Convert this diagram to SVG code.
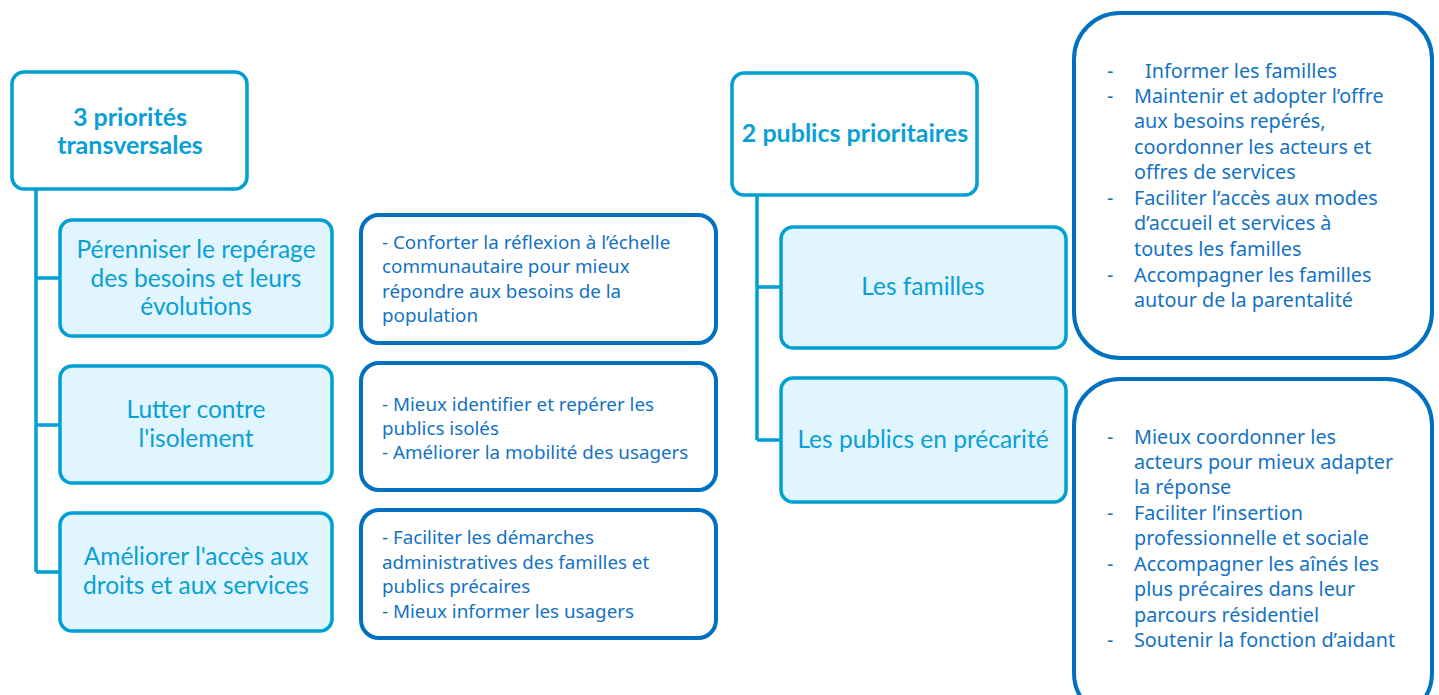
<svg xmlns="http://www.w3.org/2000/svg" width="1439" height="695" viewBox="0 0 1439 695">
<style>
.head{fill:#fff;stroke:#00A0D2;stroke-width:3.5}
.sub{fill:#E0F5FD;stroke:#00A0D2;stroke-width:3.5}
.det{fill:#fff;stroke:#0070C0;stroke-width:4}
.conn{fill:none;stroke:#00A0D2;stroke-width:3.5}
.ht{font-family:Lato,"Noto Sans",sans-serif;font-weight:bold;font-size:25px;fill:#0AA0D6;text-anchor:middle}
.st{font-family:Lato,"Noto Sans",sans-serif;font-size:24.5px;fill:#0AA0D6;text-anchor:middle}
.dt{font-family:"Noto Sans",sans-serif;font-size:18.8px;fill:#1372C4}
.rt{font-family:"Noto Sans",sans-serif;font-size:19.8px;fill:#1372C4}
</style>
<rect width="1439" height="695" fill="#fff"/>
<g id="connectors">
<path class="conn" d="M36 189 V572 M36 278 H60 M36 425 H60 M36 572 H60"/>
<path class="conn" d="M757 195 V440 M757 287 H781 M757 440 H781"/>
</g>
<g id="n-priorites">
<rect class="head" x="12" y="72" width="235" height="117" rx="12"/>
<text class="ht" x="130" y="126">3 priorités</text>
<text class="ht" x="130" y="154">transversales</text>
</g>
<g id="n-perenniser">
<rect class="sub" x="60" y="220" width="272" height="116" rx="12"/>
<text class="st" x="196" y="258">Pérenniser le repérage</text>
<text class="st" x="196" y="287">des besoins et leurs</text>
<text class="st" x="196" y="315">évolutions</text>
</g>
<g id="n-lutter">
<rect class="sub" x="60" y="366" width="272" height="117" rx="12"/>
<text class="st" x="196" y="418">Lutter contre</text>
<text class="st" x="196" y="447">l'isolement</text>
</g>
<g id="n-ameliorer">
<rect class="sub" x="60" y="513" width="272" height="118" rx="12"/>
<text class="st" x="196" y="565">Améliorer l'accès aux</text>
<text class="st" x="196" y="594">droits et aux services</text>
</g>
<g id="d-perenniser">
<rect class="det" x="361" y="215" width="355" height="128" rx="18"/>
<text class="dt" x="382" y="249">- Conforter la réflexion à l’échelle</text>
<text class="dt" x="382" y="273">communautaire  pour mieux</text>
<text class="dt" x="382" y="298">répondre aux besoins de la</text>
<text class="dt" x="382" y="322">population</text>
</g>
<g id="d-lutter">
<rect class="det" x="361" y="363" width="355" height="127" rx="18"/>
<text class="dt" x="382" y="411">- Mieux identifier et repérer les</text>
<text class="dt" x="382" y="435">publics isolés</text>
<text class="dt" x="382" y="459">- Améliorer la mobilité des usagers</text>
</g>
<g id="d-ameliorer">
<rect class="det" x="361" y="510" width="355" height="128" rx="18"/>
<text class="dt" x="382" y="544">- Faciliter les démarches</text>
<text class="dt" x="382" y="569">administratives des familles et</text>
<text class="dt" x="382" y="593">publics précaires</text>
<text class="dt" x="382" y="618">- Mieux informer les usagers</text>
</g>
<g id="n-publics">
<rect class="head" x="732" y="73" width="245" height="122" rx="12"/>
<text class="ht" x="855" y="142">2 publics prioritaires</text>
</g>
<g id="n-familles">
<rect class="sub" x="781" y="227" width="285" height="121" rx="12"/>
<text class="st" x="923" y="295">Les familles</text>
</g>
<g id="n-precarite">
<rect class="sub" x="781" y="378" width="285" height="124" rx="12"/>
<text class="st" x="923" y="448">Les publics en précarité</text>
</g>
<g id="d-familles">
<rect class="det" x="1074" y="13" width="358" height="345" rx="46"/>
<text class="rt" x="1107" y="78">-</text>
<text class="rt" x="1145" y="78">Informer les familles</text>
<text class="rt" x="1107" y="103">-</text>
<text class="rt" x="1134" y="103">Maintenir et adopter l’offre</text>
<text class="rt" x="1134" y="128">aux besoins repérés,</text>
<text class="rt" x="1134" y="154">coordonner les acteurs et</text>
<text class="rt" x="1134" y="179">offres de services</text>
<text class="rt" x="1107" y="205">-</text>
<text class="rt" x="1134" y="205">Faciliter l’accès aux modes</text>
<text class="rt" x="1134" y="230">d’accueil et services à</text>
<text class="rt" x="1134" y="256">toutes les familles</text>
<text class="rt" x="1107" y="282">-</text>
<text class="rt" x="1134" y="282">Accompagner les familles</text>
<text class="rt" x="1134" y="307">autour de la parentalité</text>
</g>
<g id="d-precarite">
<rect class="det" x="1074" y="379" width="358" height="340" rx="46"/>
<text class="rt" x="1107" y="444">-</text>
<text class="rt" x="1134" y="444">Mieux coordonner les</text>
<text class="rt" x="1134" y="469">acteurs pour mieux adapter</text>
<text class="rt" x="1134" y="494">la réponse</text>
<text class="rt" x="1107" y="520">-</text>
<text class="rt" x="1134" y="520">Faciliter l’insertion</text>
<text class="rt" x="1134" y="545">professionnelle et sociale</text>
<text class="rt" x="1107" y="571">-</text>
<text class="rt" x="1134" y="571">Accompagner les aînés les</text>
<text class="rt" x="1134" y="596">plus précaires dans leur</text>
<text class="rt" x="1134" y="622">parcours résidentiel</text>
<text class="rt" x="1107" y="647">-</text>
<text class="rt" x="1134" y="647">Soutenir la fonction d’aidant</text>
</g>
</svg>
